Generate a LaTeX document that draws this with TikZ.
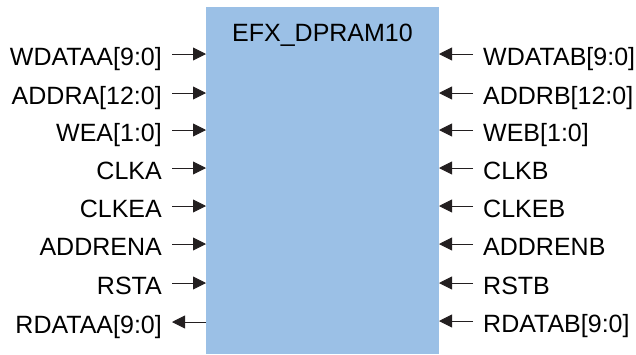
\documentclass[tikz,border=0pt]{standalone}
\usepackage{fontspec}
\setmainfont{Liberation Sans}
\usetikzlibrary{arrows.meta}
\definecolor{boxblue}{HTML}{9BC0E6}
\definecolor{ink}{HTML}{231F20}
\begin{document}
\begin{tikzpicture}[x=1pt,y=-1pt,
  lbl/.style={inner sep=0pt,font=\fontsize{25}{30}\selectfont,text=black},
  port/.style={draw=ink,line width=0.9pt,-{Triangle[length=13pt,width=13pt]}}]
\useasboundingbox (0,0) rectangle (636,354);
\fill[boxblue] (206,7) rectangle (439,354);
\node[lbl,anchor=base] (title) at (322.5,41) {EFX\_DPRAM10};
% left side
\foreach \n/\t/\y in {1/WDATAA[9:0]/54,2/ADDRA[12:0]/93,3/WEA[1:0]/130,4/CLKA/168,5/CLKEA/206,6/ADDRENA/244,7/RSTA/283,8/RDATAA[9:0]/322}{
  \node[lbl,anchor=base east] (L\n) at (162,\y+11.5) {\t};
  \coordinate (lo\n) at (172,\y);
  \coordinate (li\n) at (206,\y);
}
\foreach \n/\t/\y in {1/WDATAB[9:0]/54,2/ADDRB[12:0]/93,3/WEB[1:0]/130,4/CLKB/168,5/CLKEB/206,6/ADDRENB/244,7/RSTB/283,8/RDATAB[9:0]/321}{
  \node[lbl,anchor=base west] (R\n) at (483,\y+11.5) {\t};
  \coordinate (ro\n) at (473,\y);
  \coordinate (ri\n) at (439,\y);
}
\foreach \n in {1,...,7}{\draw[port] (lo\n) -- (li\n);}
\draw[port] (li8) -- (lo8);
\foreach \n in {1,...,8}{\draw[port] (ro\n) -- (ri\n);}
\end{tikzpicture}
\end{document}
